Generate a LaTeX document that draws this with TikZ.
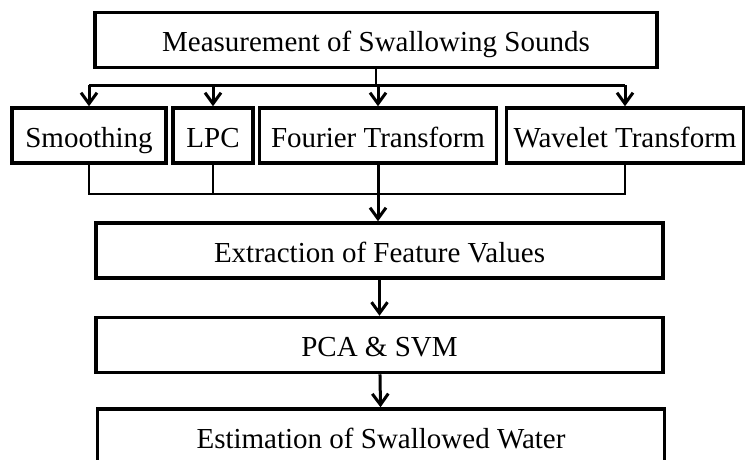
\documentclass[tikz,border=0pt]{standalone}
\usepackage{fontspec}
\setmainfont{Liberation Serif}
\usetikzlibrary{arrows.meta}

\begin{document}
\begin{tikzpicture}[x=1pt,y=-1pt,
    box/.style={draw,line width=3.5pt,rectangle,inner sep=0pt,minimum height=55pt,
      text height=27pt,text depth=4pt,font=\fontsize{29}{34}\selectfont},
    arr/.style={line width=3pt,-{Straight Barb[length=11pt,width=16pt]}},
    bus/.style={line width=2.8pt},
    mergeline/.style={line width=2pt}]
  \useasboundingbox (0,0) rectangle (746,459);
  \def\bw{567}

  \node[box,minimum width=562pt] (meas) at (376,40) {Measurement of Swallowing Sounds};
  \node[box,minimum width=154pt] (smooth) at (89,135.5) {Smoothing};
  \node[box,minimum width=80pt] (lpc) at (213,135.5) {LPC};
  \node[box,minimum width=237pt] (four) at (378,135.5) {Fourier Transform};
  \node[box,minimum width=237pt] (wave) at (625,135.5) {Wavelet Transform};
  \node[box,minimum width=\bw pt] (extract) at (379.5,250.5) {Extraction of Feature Values};
  \node[box,minimum width=\bw pt] (pca) at (379.5,345) {PCA \& SVM};
  \node[box,minimum width=\bw pt,minimum height=56pt] (estim) at (381,437) {Estimation of Swallowed Water};

  \draw[bus] (meas.south) -- ++(0,16) coordinate (split);
  \draw[bus] (smooth.north |- split) -- (wave.north |- split);
  \foreach \n in {smooth,lpc,four,wave}
    \draw[arr] (\n.north |- split) -- (\n.north);

  \path (four.south) ++(0,29) coordinate (merge);
  \draw[mergeline] (smooth.south) -- (smooth.south |- merge) -- (wave.south |- merge) -- (wave.south);
  \draw[mergeline] (lpc.south) -- (lpc.south |- merge);
  \draw[arr] (four.south) -- (four.south |- extract.north);
  \draw[arr] (extract) -- (pca);
  \draw[arr] (pca) -- (estim);
\end{tikzpicture}
\end{document}
